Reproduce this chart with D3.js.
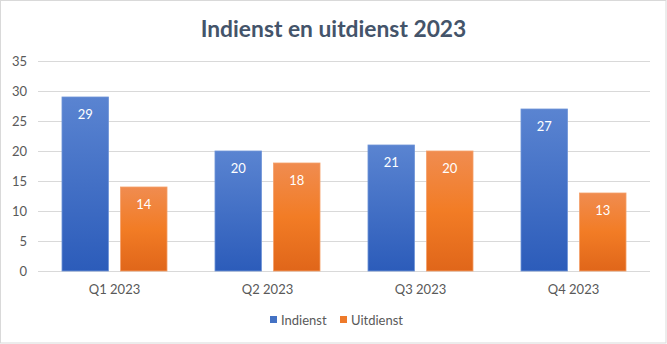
<!DOCTYPE html>
<html><head><meta charset="utf-8">
<script src="https://cdn.jsdelivr.net/npm/d3@7"></script>
<style>body{margin:0;background:#fff;}svg{display:block;font-family:Lato,"Open Sans",sans-serif;}</style>
</head><body><svg id="c" width="667" height="344"></svg>
<script>
const categories = ["Q1 2023","Q2 2023","Q3 2023","Q4 2023"];
const seriesNames = ["Indienst","Uitdienst"];
const indienst = [29,20,21,27];
const uitdienst = [14,18,20,13];
const yTicks = [0,5,10,15,20,25,30,35];
const title = "Indienst en uitdienst 2023";

const svg = d3.select("#c");
const W=667,H=344;
svg.append("rect").attr("x",0.5).attr("y",0.5).attr("width",W-1.5).attr("height",H-1.5)
  .attr("fill","#fff").attr("stroke","#d9d9d9");

const defs = svg.append("defs");
const gB = defs.append("linearGradient").attr("id","gB").attr("x1",0).attr("y1",0).attr("x2",0).attr("y2",1);
gB.append("stop").attr("offset","0%").attr("stop-color","#5a84d1");
gB.append("stop").attr("offset","100%").attr("stop-color","#2c5cba");
const gO = defs.append("linearGradient").attr("id","gO").attr("x1",0).attr("y1",0).attr("x2",0).attr("y2",1);
gO.append("stop").attr("offset","0%").attr("stop-color","#f08c50");
gO.append("stop").attr("offset","50%").attr("stop-color","#f27c25");
gO.append("stop").attr("offset","100%").attr("stop-color","#e0661a");

const x = d3.scaleBand().domain(categories).range([38,650]).paddingInner(0).paddingOuter(0);
const y = d3.scaleLinear().domain([0,35]).range([271,61]);
const x1 = d3.scaleBand().domain(seriesNames).range([0,x.bandwidth()]).paddingInner(0.205).paddingOuter(0.41);

svg.append("text").attr("x",333.5).attr("y",37).attr("text-anchor","middle")
  .attr("font-size",22.8).attr("font-weight","bold").attr("fill","#44546a").text(title);

const yAxis = d3.axisLeft(y).tickValues(yTicks).tickSize(-(650-38)).tickPadding(11);
const ga = svg.append("g").attr("transform","translate(38,0)").call(yAxis);
ga.select(".domain").remove();
ga.selectAll(".tick line").attr("stroke","#d9d9d9");
ga.selectAll(".tick text").attr("fill","#595959").attr("font-size",13).attr("font-family","Lato,sans-serif");

const xAxis = d3.axisBottom(x).tickSize(0).tickPadding(14);
const gx = svg.append("g").attr("transform","translate(0,271)").call(xAxis);
gx.select(".domain").remove();
gx.selectAll(".tick text").attr("fill","#595959").attr("font-size",13).attr("font-family","Lato,sans-serif");

const data = [indienst, uitdienst];
const fills = ["url(#gB)","url(#gO)"];
const strokes = ["#6f95d8","#f4a06a"];
seriesNames.forEach((s,si)=>{
  const g = svg.append("g");
  g.selectAll("rect").data(data[si]).join("rect")
    .attr("x",(d,i)=>x(categories[i])+x1(s))
    .attr("y",d=>y(d))
    .attr("width",x1.bandwidth())
    .attr("height",d=>y(0)-y(d))
    .attr("fill",fills[si]).attr("stroke",strokes[si]).attr("stroke-width",0.8);
  g.selectAll("text").data(data[si]).join("text")
    .attr("x",(d,i)=>x(categories[i])+x1(s)+x1.bandwidth()/2)
    .attr("y",d=>y(d)+22)
    .attr("text-anchor","middle").attr("fill","#fff").attr("font-size",13)
    .text(d=>d);
});

const leg = svg.append("g");
const legX = [270,340];
seriesNames.forEach((s,i)=>{
  leg.append("rect").attr("x",legX[i]).attr("y",316).attr("width",7).attr("height",7)
    .attr("fill",i?"#ee7a2a":"#4472c4");
  leg.append("text").attr("x",legX[i]+11).attr("y",324.5).attr("font-size",13).attr("fill","#595959").text(s);
});
</script></body></html>
